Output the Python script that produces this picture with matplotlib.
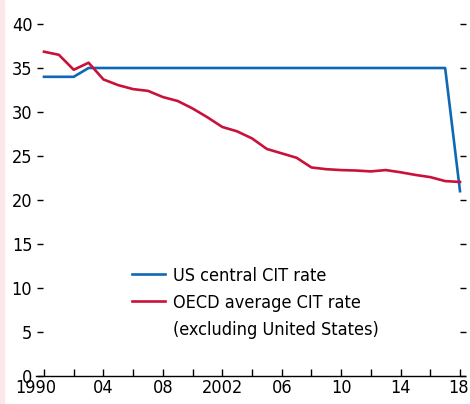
import numpy as np
import matplotlib
matplotlib.use("Agg")
import matplotlib.pyplot as plt
import matplotlib.transforms as mtransforms
from matplotlib.lines import Line2D
from matplotlib.patches import Rectangle

plt.rcParams['font.family'] = ['DejaVu Sans']
plt.rcParams['font.stretch'] = 'condensed'

# Datos: tasas del impuesto de sociedades (%)
years = np.arange(1990, 2019)
us_rate = [34, 34, 34, 35, 35, 35, 35, 35, 35, 35,
           35, 35, 35, 35, 35, 35, 35, 35, 35, 35,
           35, 35, 35, 35, 35, 35, 35, 35, 21]
oecd_rate = [36.85, 36.5, 34.8, 35.6, 33.7, 33.05, 32.6, 32.4, 31.7, 31.25,
             30.4, 29.4, 28.3, 27.8, 27.0, 25.8, 25.3, 24.8, 23.7, 23.5,
             23.4, 23.35, 23.25, 23.4, 23.15, 22.85, 22.6, 22.15, 22.05]

xticks = [1990, 1994, 1998, 2002, 2006, 2010, 2014, 2018]
xticklabels = ['1990', '04', '08', '2002', '06', '10', '14', '18']
yticks = [0, 5, 10, 15, 20, 25, 30, 35, 40]

blue = '#0f68b4'
red = '#c8123a'
lw = 1.9

fig = plt.figure(figsize=(4.7, 4.04), dpi=100)
# franja rosa del margen izquierdo
fig.patches.append(Rectangle((0, 0), 3.5 / 470, 1, transform=fig.transFigure,
                             color='#fbe6ea', zorder=0))

ax = fig.add_axes([36.5 / 470, 28 / 404, 429 / 470, 360.8 / 404])
ax.plot(years, us_rate, color=blue, linewidth=lw)
ax.plot(years, oecd_rate, color=red, linewidth=lw)

ax.set_xlim(1989.495, 2018.37)
ax.set_ylim(0, 41)

for s in ['top', 'right', 'left']:
    ax.spines[s].set_visible(False)
ax.spines['bottom'].set_linewidth(1.0)

ax.set_xticks(xticks)
ax.set_xticklabels(xticklabels)
ax.set_xticks(np.arange(1990, 2019, 2), minor=True)
ax.tick_params(axis='x', which='both', direction='in', length=5, width=1,
               labelsize=13, pad=2)
ax.set_yticks(yticks)
ax.tick_params(axis='y', which='both', direction='in', length=4.5, width=1,
               labelsize=13, pad=3, right=True, left=True)

# correr un poco las etiquetas de los extremos hacia dentro
xlabs = ax.get_xticklabels()
xlabs[0].set_transform(xlabs[0].get_transform() +
                       mtransforms.ScaledTranslation(-8 / 100, 0, fig.dpi_scale_trans))
xlabs[-1].set_transform(xlabs[-1].get_transform() +
                        mtransforms.ScaledTranslation(-2 / 100, 0, fig.dpi_scale_trans))

handles = [Line2D([], [], color=blue, linewidth=lw),
           Line2D([], [], color=red, linewidth=lw),
           Line2D([], [], color='none')]
labels = ['US central CIT rate', 'OECD average CIT rate', '(excluding United States)']
ax.legend(handles, labels, loc='upper left', bbox_to_anchor=(95 / 429, 0.303),
          frameon=False, fontsize=13, handlelength=1.85, handletextpad=0.45,
          labelspacing=0.5, borderpad=0, borderaxespad=0)

fig.savefig('out.png', dpi=100)
